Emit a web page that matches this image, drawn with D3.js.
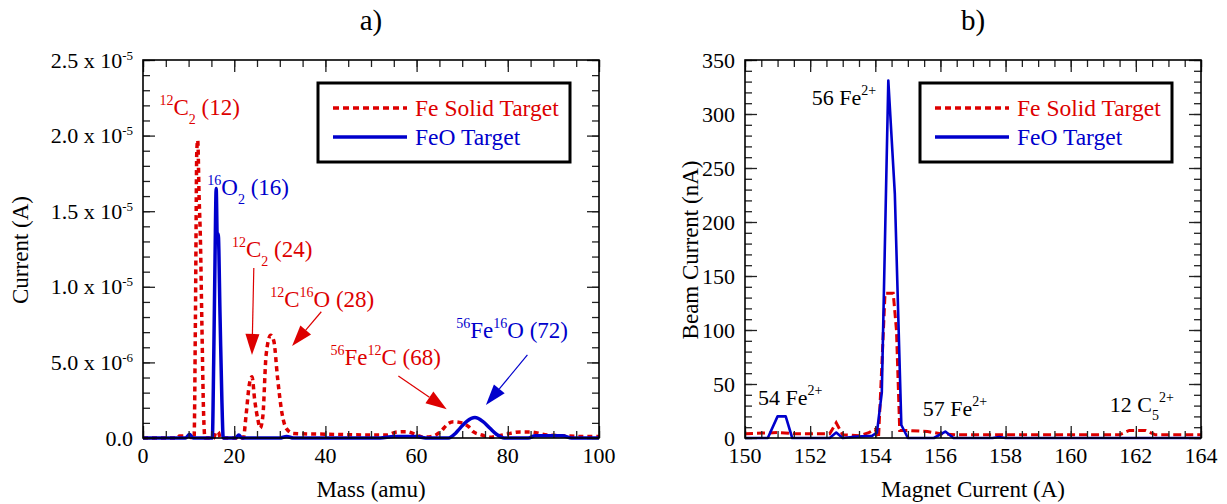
<!DOCTYPE html>
<html>
<head>
<meta charset="utf-8">
<script src="https://cdn.jsdelivr.net/npm/d3@7"></script>
<style>
  body { margin: 0; background: #fff; }
</style>
</head>
<body>
<svg id="chart" width="1227" height="504"></svg>
<script>
// a) mass spectrum
var massSolid = [0, 7.5, 8, 10, 10.8, 11.2, 11.5, 11.8, 12.0, 12.3, 12.6, 12.9, 13.3, 13.6, 15.5,
  16, 16.5, 17, 22, 22.6, 23.3, 23.9, 24.5, 25.2, 25.7, 26.3, 27.0, 28.0, 28.7, 29.5,
  30.5, 31.5, 33, 40, 50, 53.5, 55.7, 57.9, 60, 61.5, 63.7, 65.2, 67, 68.1, 69.9,
  71.4, 72.5, 74.3, 76, 78, 79.8, 82.7, 84.9, 88.6, 92, 96, 100];
var currentSolid = [0, 0, 1.3e-7, 1.3e-7, 0, 0, 8e-6, 1.9e-5, 1.97e-5, 1.6e-5, 1.3e-5, 7.8e-6, 1.5e-6, 0, 0,
  4e-7, 4e-7, 0, 0, 1.5e-6, 3.5e-6, 4.05e-6, 2.5e-6, 1.2e-6, 6.5e-7, 1.5e-6, 5.5e-6, 6.8e-6, 6.4e-6, 4.0e-6,
  1.6e-6, 6e-7, 3e-7, 2.5e-7, 2e-7, 2e-7, 4e-7, 4.2e-7, 2e-7, 5e-8, 1.3e-7, 4e-7, 9.7e-7, 1.08e-6, 1e-6,
  7.5e-7, 4e-7, 2e-7, 5e-8, 1.5e-7, 2.6e-7, 4e-7, 4e-7, 2e-7, 1.5e-7, 1e-7, 1e-7];
var massFeO = [0, 9.3, 10.2, 11, 15.2, 15.5, 15.8, 16.05, 16.3, 16.5, 16.9, 17.3, 17.6, 20.3, 21,
  21.7, 30, 31.5, 33, 52, 55, 60, 62, 67, 68.5, 69.5, 71, 72.8, 74.5, 76.1,
  77.5, 79.2, 84.5, 86, 92, 94, 100];
var currentFeO = [0, 0, 2.4e-7, 0, 0, 5e-6, 1.2e-5, 1.65e-5, 1.3e-5, 1.35e-5, 8e-6, 2.5e-6, 0, 0, 2e-7,
  0, 0, 1e-7, 0, 0, 1e-7, 1e-7, 0, 0, 3e-7, 6.4e-7, 1.1e-6, 1.35e-6, 1.1e-6, 6.4e-7,
  2.5e-7, 0, 0, 1.5e-7, 1.5e-7, 0, 0];

// b) magnet scan
var magnetSolid = [150, 151, 151.5, 152.6, 152.8, 153.0, 153.5, 153.8, 154.0, 154.1, 154.25, 154.3,
  154.55, 154.65, 154.75, 155, 155.6, 156, 156.5, 161.5, 161.8, 162.3, 162.6, 164];
var beamSolid = [4, 5, 4, 4, 14, 3, 2, 5, 8, 0, 100, 134, 134, 100, 7, 7, 6, 4, 3, 3, 7, 7, 3, 3];
var magnetFeO = [150, 150.7, 151.0, 151.25, 151.45, 152.6, 152.8, 153.0, 153.3, 153.9, 154.05, 154.2,
  154.4, 154.6, 154.8, 155.0, 155.8, 156.15, 156.4, 157.6, 157.8, 158, 164];
var beamFeO = [0, 0, 20, 20, 0, 0, 5, 0, 1, 2, 5, 42, 331, 226, 12, 0, 0, 6, 0, 0, 1, 0, 0];

// tick labels
var massTicks = [0, 20, 40, 60, 80, 100];
var currentTicks = [0, 5e-6, 1e-5, 1.5e-5, 2e-5, 2.5e-5];
var currentMantissa = ['0.0', '5.0', '1.0', '1.5', '2.0', '2.5'];
var currentExponent = ['', '-6', '-5', '-5', '-5', '-5'];
var magnetTicks = [150, 152, 154, 156, 158, 160, 162, 164];
var beamTicks = [0, 50, 100, 150, 200, 250, 300, 350];

var seriesNames = ['Fe Solid Target', 'FeO Target'];
var red = '#dd0000';
var blue = '#0000cc';
var serif = "'Liberation Serif', 'Times New Roman', serif";

var svg = d3.select('#chart');
var W = 456, H = 378;

function richText(sel, x, y, parts, size, color) {
  var t = sel.append('text')
    .attr('x', x).attr('y', y)
    .attr('fill', color)
    .style('font-size', size + 'px');
  var shift = 0;
  parts.forEach(function(p) {
    var target = p[1] === 'sup' ? -Math.round(size * 0.45) : p[1] === 'sub' ? Math.round(size * 0.38) : 0;
    t.append('tspan')
      .attr('dy', target - shift)
      .style('font-size', p[1] ? Math.round(size * 0.62) + 'px' : null)
      .text(p[0]);
    shift = target;
  });
  return t;
}

function arrow(g, x1, y1, x2, y2, color) {
  var dx = x2 - x1, dy = y2 - y1, len = Math.sqrt(dx * dx + dy * dy);
  var ux = dx / len, uy = dy / len, hl = 21, hw = 7;
  var bx = x2 - ux * hl, by = y2 - uy * hl;
  g.append('line')
    .attr('x1', x1).attr('y1', y1).attr('x2', bx).attr('y2', by)
    .attr('stroke', color).attr('stroke-width', 1.2);
  g.append('path')
    .attr('d', 'M' + x2 + ',' + y2 + 'L' + (bx - uy * hw) + ',' + (by + ux * hw) +
      'L' + (bx + uy * hw) + ',' + (by - ux * hw) + 'Z')
    .attr('fill', color);
}

function frame(g, x, y, xMajor, xMinor, yMajor, yMinor) {
  var sets = [
    [d3.axisBottom(x), 'translate(0,' + H + ')', xMajor, xMinor],
    [d3.axisTop(x), null, xMajor, xMinor],
    [d3.axisLeft(y), null, yMajor, yMinor],
    [d3.axisRight(y), 'translate(' + W + ',0)', yMajor, yMinor]
  ];
  sets.forEach(function(s) {
    [[s[3], -7], [s[2], -12]].forEach(function(k) {
      var ax = g.append('g').attr('transform', s[1])
        .call(s[0].tickValues(k[0]).tickSize(k[1]).tickFormat(''));
      ax.select('.domain').remove();
      ax.selectAll('line').attr('stroke', '#222').attr('stroke-width', 1.3);
    });
  });
  g.append('rect').attr('width', W).attr('height', H)
    .attr('fill', 'none').attr('stroke', '#000').attr('stroke-width', 1.6);
}

function legend(g) {
  var lg = g.append('g');
  lg.append('rect').attr('x', 175).attr('y', 23).attr('width', 252).attr('height', 79)
    .attr('fill', '#fff').attr('stroke', '#000').attr('stroke-width', 3);
  lg.append('line').attr('x1', 190).attr('x2', 264).attr('y1', 48).attr('y2', 48)
    .attr('stroke', red).attr('stroke-width', 3.5).attr('stroke-dasharray', '6,4');
  lg.append('line').attr('x1', 190).attr('x2', 264).attr('y1', 77).attr('y2', 77)
    .attr('stroke', blue).attr('stroke-width', 3.5);
  lg.append('text').attr('x', 272).attr('y', 56).attr('fill', red)
    .style('font-size', '23.5px').text(seriesNames[0]);
  lg.append('text').attr('x', 272).attr('y', 85).attr('fill', blue)
    .style('font-size', '23.5px').text(seriesNames[1]);
}

// ---------- panel a ----------
var ga = svg.append('g').attr('transform', 'translate(143,60)');
var xa = d3.scaleLinear().domain([0, 100]).range([0, W]);
var ya = d3.scaleLinear().domain([0, 2.5e-5]).range([H, 0]);

var lineA = d3.line().curve(d3.curveMonotoneX)
  .x(function(d) { return xa(d[0]); })
  .y(function(d) { return ya(d[1]); });

ga.append('path').datum(d3.zip(massSolid, currentSolid))
  .attr('d', lineA).attr('fill', 'none')
  .attr('stroke', red).attr('stroke-width', 3.5).attr('stroke-dasharray', '5,4');
ga.append('path').datum(d3.zip(massFeO, currentFeO))
  .attr('d', lineA).attr('fill', 'none')
  .attr('stroke', blue).attr('stroke-width', 3.5).attr('stroke-linejoin', 'round');

frame(ga, xa, ya, massTicks, d3.range(0, 101, 5), currentTicks, d3.range(0, 26).map(function(i) { return i * 1e-6; }));

massTicks.forEach(function(v) {
  ga.append('text').attr('x', xa(v)).attr('y', H + 25)
    .attr('text-anchor', 'middle').style('font-size', '22px').text(v);
});
currentTicks.forEach(function(v, i) {
  var t = ga.append('text').attr('x', -10).attr('y', ya(v) + 7.5)
    .attr('text-anchor', 'end').style('font-size', '22px');
  t.append('tspan').text(currentMantissa[i] + (currentExponent[i] ? ' x 10' : ''));
  if (currentExponent[i]) t.append('tspan').attr('dy', -8).style('font-size', '13px').text(currentExponent[i]);
});

legend(ga);

// annotations a
var annA = [
  { m: 3.6, v: 2.136e-5, c: red, parts: [['12', 'sup'], ['C', null], ['2', 'sub'], [' (12)', null]] },
  { m: 14.1, v: 1.607e-5, c: blue, parts: [['16', 'sup'], ['O', null], ['2', 'sub'], [' (16)', null]] },
  { m: 19.5, v: 1.2e-5, c: red, parts: [['12', 'sup'], ['C', null], ['2', 'sub'], [' (24)', null]] },
  { m: 27.9, v: 8.68e-6, c: red, parts: [['12', 'sup'], ['C', null], ['16', 'sup'], ['O (28)', null]] },
  { m: 41.1, v: 4.83e-6, c: red, parts: [['56', 'sup'], ['Fe', null], ['12', 'sup'], ['C (68)', null]] },
  { m: 68.7, v: 6.6e-6, c: blue, parts: [['56', 'sup'], ['Fe', null], ['16', 'sup'], ['O (72)', null]] }
];
annA.forEach(function(a) { richText(ga, xa(a.m), ya(a.v), a.parts, 23, a.c); });
var arrowsA = [
  [24.3, 1.124e-5, 23.9, 5.49e-6, red],
  [39.1, 8.35e-6, 32.7, 6.08e-6, red],
  [56.0, 4.1e-6, 66.6, 1.9e-6, red],
  [84.3, 5.49e-6, 75.2, 2.18e-6, blue]
];
arrowsA.forEach(function(a) { arrow(ga, xa(a[0]), ya(a[1]), xa(a[2]), ya(a[3]), a[4]); });

// ---------- panel b ----------
var gb = svg.append('g').attr('transform', 'translate(745,60)');
var xb = d3.scaleLinear().domain([150, 164]).range([0, W]);
var yb = d3.scaleLinear().domain([0, 350]).range([H, 0]);

var lineB = d3.line()
  .x(function(d) { return xb(d[0]); })
  .y(function(d) { return yb(d[1]); });

gb.append('path').datum(d3.zip(magnetSolid, beamSolid))
  .attr('d', lineB).attr('fill', 'none')
  .attr('stroke', red).attr('stroke-width', 3).attr('stroke-dasharray', '8,4');
gb.append('path').datum(d3.zip(magnetFeO, beamFeO))
  .attr('d', lineB).attr('fill', 'none')
  .attr('stroke', blue).attr('stroke-width', 2.6).attr('stroke-linejoin', 'round');

frame(gb, xb, yb, magnetTicks, d3.range(150, 164.01, 0.5), beamTicks, d3.range(0, 351, 10));

magnetTicks.forEach(function(v) {
  gb.append('text').attr('x', xb(v)).attr('y', H + 25)
    .attr('text-anchor', 'middle').style('font-size', '22px').text(v);
});
beamTicks.forEach(function(v) {
  gb.append('text').attr('x', -10).attr('y', yb(v) + 7.5)
    .attr('text-anchor', 'end').style('font-size', '22px').text(v);
});

legend(gb);

var annB = [
  { c: 152.05, v: 308, parts: [['56 Fe', null], ['2+', 'sup']] },
  { c: 150.4, v: 30.6, parts: [['54 Fe', null], ['2+', 'sup']] },
  { c: 155.46, v: 20.4, parts: [['57 Fe', null], ['2+', 'sup']] },
  { c: 161.2, v: 24.4, parts: [['12 C', null], ['5', 'sub'], ['2+', 'sup']] }
];
annB.forEach(function(a) { richText(gb, xb(a.c), yb(a.v), a.parts, 22, '#000'); });

// titles
svg.append('text').attr('x', 371).attr('y', 30).attr('text-anchor', 'middle')
  .style('font-size', '29px').text('a)');
svg.append('text').attr('x', 973).attr('y', 30).attr('text-anchor', 'middle')
  .style('font-size', '29px').text('b)');

svg.append('text').attr('x', 371).attr('y', 497).attr('text-anchor', 'middle')
  .style('font-size', '23px').text('Mass (amu)');
svg.append('text').attr('x', 973).attr('y', 497).attr('text-anchor', 'middle')
  .style('font-size', '23px').text('Magnet Current (A)');
svg.append('text').attr('transform', 'translate(28,250) rotate(-90)').attr('text-anchor', 'middle')
  .style('font-size', '23px').text('Current (A)');
svg.append('text').attr('transform', 'translate(698,250) rotate(-90)').attr('text-anchor', 'middle')
  .style('font-size', '23px').text('Beam Current (nA)');

svg.selectAll('text').style('font-family', serif);
</script>
</body>
</html>
